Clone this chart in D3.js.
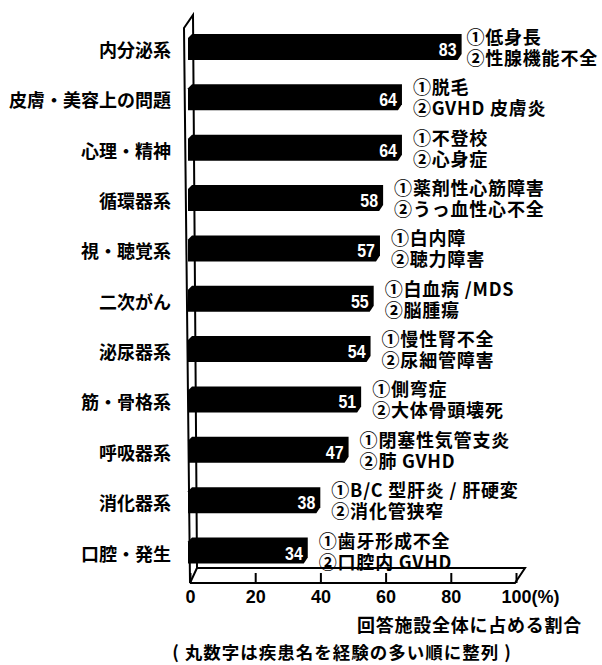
<!DOCTYPE html>
<html>
<head>
<meta charset="utf-8">
<script src="https://cdn.jsdelivr.net/npm/d3@7"></script>
<style>
  body { margin: 0; background: #fff; }
  text { font-family: "Noto Sans CJK JP", "Noto Sans", sans-serif; }
  .num { font-family: "Liberation Sans", Arial, sans-serif; }
  .tick text { font-family: "Liberation Sans", Arial, sans-serif; }
</style>
</head>
<body>
<div id="chart"></div>
<script>
const width = 602
const height = 665

// 疾患分野
const categories = ['内分泌系', '皮膚・美容上の問題', '心理・精神', '循環器系', '視・聴覚系', '二次がん', '泌尿器系', '筋・骨格系', '呼吸器系', '消化器系', '口腔・発生']
// 回答施設全体に占める割合 (%)
const values = [83, 64, 64, 58, 57, 55, 54, 51, 47, 38, 34]
// 経験の多い疾患名 ①
const firstDisease = ['低身長', '脱毛', '不登校', '薬剤性心筋障害', '白内障', '白血病 /MDS', '慢性腎不全', '側弯症', '閉塞性気管支炎', 'B/C 型肝炎 / 肝硬変', '歯牙形成不全']
// 経験の多い疾患名 ②
const secondDisease = ['性腺機能不全', 'GVHD 皮膚炎', '心身症', 'うっ血性心不全', '聴力障害', '脳腫瘍', '尿細管障害', '大体骨頭壊死', '肺 GVHD', '消化管狭窄', '口腔内 GVHD']
const ticks = [0, 20, 40, 60, 80, 100]

const svg = d3.select('#chart').append('svg')
  .attr('width', width)
  .attr('height', height)

// front plane (axis labels) and back plane (bar ends) of the 3D box
const x = d3.scaleLinear().domain([0, 100]).range([190, 516])
const xBar = d3.scaleLinear().domain([0, 100]).range([201, 515])
const y = d3.scalePoint().domain(categories).range([47, 550.5])

const floorFront = 583
const floorBack = 568
const barH = 26
const barLeft = 188

// wall
svg.append('path')
  .attr('d', 'M190,583 L184,28 L193,15 L197,568 Z')
  .attr('fill', 'none')
  .attr('stroke', '#000')
  .attr('stroke-width', 2)

// floor
svg.append('path')
  .attr('d', `M190,${floorFront} L${x(100) - 1},${floorFront} L525,${floorBack} L197,${floorBack}`)
  .attr('fill', 'none')
  .attr('stroke', '#000')
  .attr('stroke-width', 2)

// bars
const rows = categories.map((c, i) => ({
  cat: c, v: values[i], a: firstDisease[i], b: secondDisease[i]
}))

const bar = svg.append('g').selectAll('g')
  .data(rows)
  .join('g')

bar.append('path')
  .attr('fill', '#000')
  .attr('d', d => {
    const t = y(d.cat) - barH / 2
    const b = y(d.cat) + barH / 2
    const e = xBar(d.v)
    return `M${barLeft},${b} L${barLeft},${t + 4} L${barLeft + 4},${t} L${e},${t} L${e},${b - 6} L${e - 4},${b} Z`
  })

// narrow white value labels
bar.append('text')
  .attr('class', 'num')
  .attr('transform', d => `translate(${xBar(d.v) - 5},${y(d.cat) + 9}) scale(0.84,1)`)
  .attr('text-anchor', 'end')
  .attr('fill', '#fff')
  .attr('font-size', 19)
  .attr('font-weight', 'bold')
  .text(d => d.v)

// category labels
svg.append('g').selectAll('text')
  .data(rows)
  .join('text')
  .attr('x', 171)
  .attr('y', d => y(d.cat) + 10)
  .attr('text-anchor', 'end')
  .attr('font-size', 18)
  .attr('font-weight', 'bold')
  .text(d => d.cat)

// disease notes to the right of each bar
const note = bar.append('g')
  .attr('font-size', 18)
  .attr('font-weight', 'bold')
  .attr('letter-spacing', 0.8)
note.append('text')
  .attr('y', d => y(d.cat) - 3)
  .text(d => '①' + d.a)
note.append('text')
  .attr('y', d => y(d.cat) + 18)
  .text(d => '②' + d.b)
note.each(function (d) {
  const w = d3.max(d3.select(this).selectAll('text').nodes(), n => n.getComputedTextLength())
  const left = Math.min(xBar(d.v) + 11, width - 4 - w)
  d3.select(this).selectAll('text').attr('x', left)
})

// x axis on the floor
const axis = svg.append('g')
  .attr('transform', `translate(0,${floorFront})`)
  .call(d3.axisBottom(x)
    .tickValues(ticks)
    .tickSizeInner(-10)
    .tickSizeOuter(0)
    .tickPadding(7)
    .tickFormat(d3.format('d')))
axis.select('.domain').remove()
axis.selectAll('.tick line').attr('stroke', '#000').attr('stroke-width', 2)
axis.selectAll('.tick text')
  .attr('font-size', 18)
  .attr('font-weight', 'bold')
  .attr('fill', '#000')
axis.selectAll('.tick text')
  .filter(d => d === 100)
  .attr('text-anchor', 'start')
  .attr('dx', -15)
  .text('100(%)')

svg.append('text')
  .attr('x', 582)
  .attr('y', 632)
  .attr('text-anchor', 'end')
  .attr('font-size', 18)
  .attr('font-weight', 'bold')
  .attr('letter-spacing', 0.75)
  .text('回答施設全体に占める割合')

svg.append('text')
  .attr('x', 342)
  .attr('y', 659)
  .attr('text-anchor', 'middle')
  .attr('font-size', 17.5)
  .attr('font-weight', 'bold')
  .attr('letter-spacing', 1)
  .text('( 丸数字は疾患名を経験の多い順に整列 )')
</script>
</body>
</html>
